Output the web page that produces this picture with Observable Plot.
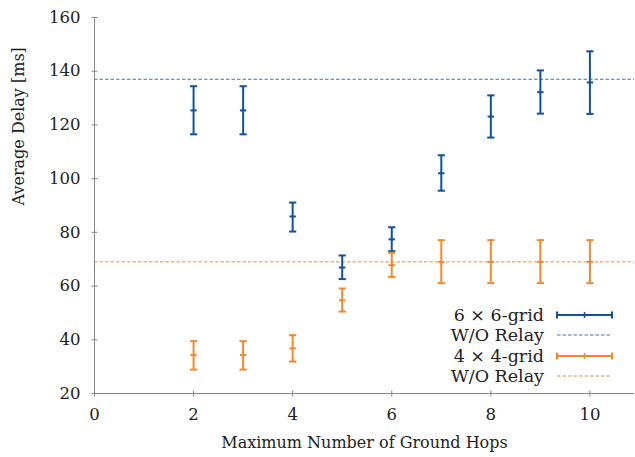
<!DOCTYPE html>
<html>
<head>
<meta charset="utf-8">
<script src="https://cdn.jsdelivr.net/npm/d3@7"></script>
<script src="https://cdn.jsdelivr.net/npm/@observablehq/plot@0.6"></script>
<style>
  html, body { margin: 0; padding: 0; background: #fff; }
  #wrap { position: relative; width: 635px; height: 457px; }
  #legend { position: absolute; right: 21px; top: 305px; font-family: "DejaVu Serif", "Liberation Serif", serif; font-size: 17.5px; color: #222; }
  #legend .row { display: flex; align-items: center; justify-content: flex-end; height: 20.3px; }
  #legend .row span { margin-right: 12px; line-height: 20px; }
  #legend svg { display: block; }
</style>
</head>
<body>
<div id="wrap"><div id="legend"></div></div>
<script>
const hops = [2, 3, 4, 5, 6, 7, 8, 9, 10];
const grid6Mean = [125.4, 125.4, 85.9, 66.9, 77.4, 102.0, 123.1, 132.2, 135.8];
const grid6Low  = [116.5, 116.5, 80.3, 62.6, 73.0, 95.5, 115.3, 124.2, 124.1];
const grid6High = [134.4, 134.4, 91.1, 71.4, 81.9, 108.7, 131.0, 140.3, 147.4];
const grid4Mean = [34.3, 34.3, 36.8, 54.7, 67.8, 69.0, 69.0, 69.0, 69.0];
const grid4Low  = [28.9, 28.9, 31.9, 50.5, 63.4, 61.1, 61.1, 61.1, 61.1];
const grid4High = [39.5, 39.5, 41.7, 59.1, 72.4, 77.1, 77.1, 77.1, 77.1];
const noRelay6 = 137;
const noRelay4 = 69;
const xTicks = [0, 2, 4, 6, 8, 10];
const yTicks = [20, 40, 60, 80, 100, 120, 140, 160];
const seriesNames = ["6 \u00d7 6-grid", "W/O Relay", "4 \u00d7 4-grid", "W/O Relay"];

const blue = "#0f539e";
const blueDash = "#3f74b9";
const orange = "#f7882a";
const orangeDash = "#f08a3e";
const axisGray = "#8a8a8a";
const font = '"DejaVu Serif", "Liberation Serif", serif';

const s6 = hops.map((h, i) => ({x: h, m: grid6Mean[i], lo: grid6Low[i], hi: grid6High[i]}));
const s4 = hops.map((h, i) => ({x: h, m: grid4Mean[i], lo: grid4Low[i], hi: grid4High[i]}));

const hSym = {draw(ctx, size) { const w = Math.sqrt(size / Math.PI); ctx.moveTo(-w, 0); ctx.lineTo(w, 0); }};
const vSym = {draw(ctx, size) { const w = Math.sqrt(size / Math.PI); ctx.moveTo(0, -w); ctx.lineTo(0, w); }};

function errMarks(data, color) {
  return [
    Plot.ruleX(data, {x: "x", y1: "lo", y2: "hi", stroke: color, strokeWidth: 2}),
    Plot.dot(data, {x: "x", y: "lo", symbol: hSym, r: 3.6, stroke: color, strokeWidth: 2, fill: "none"}),
    Plot.dot(data, {x: "x", y: "hi", symbol: hSym, r: 3.6, stroke: color, strokeWidth: 2, fill: "none"}),
    Plot.dot(data, {x: "x", y: "m", symbol: hSym, r: 3.2, stroke: color, strokeWidth: 2, fill: "none"}),
    Plot.dot(data, {x: "x", y: "m", symbol: vSym, r: 1.6, stroke: color, strokeWidth: 1.2, fill: "none"})
  ];
}

const chart = Plot.plot({
  width: 635,
  height: 457,
  marginLeft: 94,
  marginRight: 1,
  marginTop: 17,
  marginBottom: 64,
  style: {fontFamily: font, fontSize: "16px", color: "#222", background: "#fff"},
  x: {domain: [0, 10.9]},
  y: {domain: [20, 160]},
  marks: [
    Plot.ruleY([noRelay6], {stroke: blueDash, strokeWidth: 1, strokeDasharray: "3.5,2"}),
    Plot.ruleY([noRelay4], {stroke: orangeDash, strokeWidth: 1, strokeDasharray: "3.5,2"}),
    ...errMarks(s6, blue),
    ...errMarks(s4, orange),
    Plot.ruleX([0], {stroke: axisGray, strokeWidth: 1}),
    Plot.ruleY([20], {stroke: axisGray, strokeWidth: 1}),
    Plot.dot(yTicks, {x: () => 0, y: d => d, symbol: hSym, r: 3, stroke: axisGray, strokeWidth: 1}),
    Plot.dot(xTicks, {x: d => d, y: () => 20, symbol: vSym, r: 3, stroke: axisGray, strokeWidth: 1}),
    Plot.axisY(yTicks, {tickSize: 0, tickPadding: 14, label: null, fontSize: 16.5}),
    Plot.axisX(xTicks, {tickSize: 0, tickPadding: 15, label: null, fontSize: 16.5}),
    Plot.text(["Average Delay [ms]"], {frameAnchor: "left", rotate: -90, dx: -76, fontSize: 16, fill: "#222"}),
    Plot.text(["Maximum Number of Ground Hops"], {frameAnchor: "bottom", dy: 54, fontSize: 16, fill: "#222"})
  ]
});
document.getElementById("wrap").prepend(chart);

// legend
const legend = d3.select("#legend");
const styles = [
  {color: blue, bar: true},
  {color: blueDash, bar: false},
  {color: orange, bar: true},
  {color: orangeDash, bar: false}
];
seriesNames.forEach((name, i) => {
  const st = styles[i];
  const row = legend.append("div").attr("class", "row");
  row.append("span").text(name);
  const svg = row.append("svg").attr("width", 58).attr("height", 12);
  if (st.bar) {
    svg.append("line").attr("x1", 1).attr("x2", 56).attr("y1", 6).attr("y2", 6).attr("stroke", st.color).attr("stroke-width", 2);
    [1, 56].forEach(x => svg.append("line").attr("x1", x).attr("x2", x).attr("y1", 2.5).attr("y2", 9.5).attr("stroke", st.color).attr("stroke-width", 2));
    svg.append("line").attr("x1", 28.5).attr("x2", 28.5).attr("y1", 3).attr("y2", 9).attr("stroke", st.color).attr("stroke-width", 1.5);
  } else {
    svg.append("line").attr("x1", 1).attr("x2", 56).attr("y1", 6).attr("y2", 6).attr("stroke", st.color).attr("stroke-width", 1).attr("stroke-dasharray", "3.5,2");
  }
});
</script>
</body>
</html>
